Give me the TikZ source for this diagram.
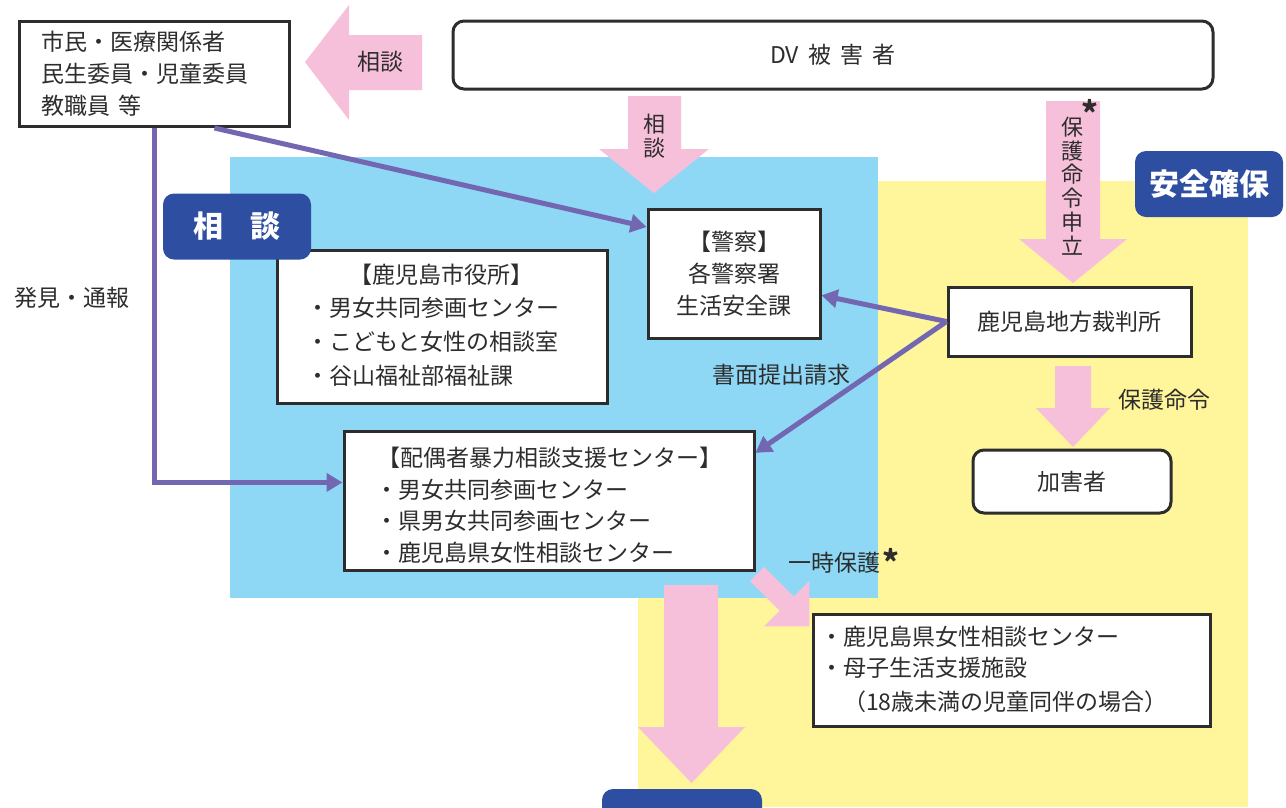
\documentclass[tikz,border=0pt]{standalone}
\usepackage{fontspec}
\setmainfont{Noto Sans CJK JP}
\usetikzlibrary{arrows.meta}
\definecolor{skyb}{RGB}{142,216,245}
\definecolor{lemon}{RGB}{255,245,155}
\definecolor{pinky}{RGB}{247,192,218}
\definecolor{navyb}{RGB}{46,79,161}
\definecolor{purp}{RGB}{115,103,178}
\definecolor{ink}{RGB}{45,45,45}
\newcommand{\astmark}{\raisebox{-13pt}[10pt][0pt]{*}}
\begin{document}
\begin{tikzpicture}[x=1pt,y=-1pt,
  box/.style={draw=ink,line width=3pt,fill=white,inner sep=0pt},
  rbox/.style={box,rounded corners=11pt},
  txt/.style={text=ink,font=\fontsize{23}{32}\selectfont,inner sep=0pt},
  badge/.style={fill=navyb,rounded corners=11pt,draw=none,text=white,font=\bfseries\fontsize{30}{30}\selectfont},
  flow/.style={draw=purp,line width=5pt,-{Triangle[length=16pt,width=18pt]}},
  pinkarrow/.style={fill=pinky,draw=none},
  astx/.style={text=ink,inner sep=0pt,anchor=south,font=\bfseries\fontsize{32}{32}\selectfont}]
\useasboundingbox (0,0) rectangle (1286,807);
\clip (0,0) rectangle (1286,807);
% background areas
\fill[lemon] (638,181) rectangle (1248,807);
\fill[skyb] (230,157) rectangle (878,598);
% pink arrows
\fill[pinkarrow] (305,62) -- (349,5) -- (349,35) -- (422,35) -- (422,90) -- (349,90) -- (349,120) -- cycle;
\fill[pinkarrow] (628,96) -- (681,96) -- (681,149) -- (709,149) -- (654,193) -- (599,149) -- (628,149) -- cycle;
\fill[pinkarrow] (1046,101) -- (1100,101) -- (1100,239) -- (1127,239) -- (1073,283) -- (1019,239) -- (1046,239) -- cycle;
\fill[pinkarrow] (1055,366) -- (1091,366) -- (1091,408) -- (1110,408) -- (1073,447) -- (1036,408) -- (1055,408) -- cycle;
\fill[pinkarrow] (664,585) -- (718,585) -- (718,727) -- (745,727) -- (691.5,783) -- (638,727) -- (664,727) -- cycle;
\begin{scope}[shift={(757,574)},rotate=-45]
\fill[pinkarrow] (0,-10) -- (42,-10) -- (42,-32) -- (74,0) -- (42,32) -- (42,10) -- (0,10) -- cycle;
\end{scope}
% boxes
\node[box,minimum width=270,minimum height=105,align=left,text width=226,txt,inner xsep=22pt] (box1) at (154.5,74)
  {市民・医療関係者\\民生委員・児童委員\\教職員 等};
\node[rbox,minimum width=760,minimum height=68,txt] (dv) at (833,55) {DV\hspace{0.4em}被\hspace{0.4em}害\hspace{0.4em}者};
\node[box,minimum width=330,minimum height=153] (city) at (442,326.5) {};
\node[box,minimum width=172,minimum height=129,txt,align=center] (police) at (734,273.5) {【警察】\\各警察署\\生活安全課};
\node[box,minimum width=243,minimum height=69,txt] (court) at (1069.5,321.5) {鹿児島地方裁判所};
\node[rbox,minimum width=198,minimum height=63,txt] (abuser) at (1072,481.5) {加害者};
\node[box,minimum width=410,minimum height=139] (sc) at (549,500.5) {};
\node[box,minimum width=397,minimum height=112] (shelter) at (1011.5,670) {};
% box texts
\node[txt] (cityt) at (441,275) {【鹿児島市役所】};
\node[txt,anchor=west] (city1) at (306,308) {・男女共同参画センター};
\node[txt,anchor=west] (city2) at (306,342) {・こどもと女性の相談室};
\node[txt,anchor=west] (city3) at (306,376) {・谷山福祉部福祉課};
\node[txt] (sct) at (550,458) {【配偶者暴力相談支援センター】};
\node[txt,anchor=west] (sc1) at (375,490) {・男女共同参画センター};
\node[txt,anchor=west] (sc2) at (375,521) {・県男女共同参画センター};
\node[txt,anchor=west] (sc3) at (375,553) {・鹿児島県女性相談センター};
\node[txt,anchor=west] (sh1) at (820,637) {・鹿児島県女性相談センター};
\node[txt,anchor=west] (sh2) at (820,668) {・母子生活支援施設};
\node[txt,anchor=west] (sh3) at (843,702) {（18歳未満の児童同伴の場合）};
% badges
\node[badge,minimum width=148,minimum height=66] (b1) at (237,226.5) {相\hspace{0.9em}談};
\node[badge,minimum width=148,minimum height=66] (b2) at (1209,184) {安全確保};
\node[badge,minimum width=160,minimum height=60] (b3) at (682,819) {};
% labels
\node[txt] (l1) at (380,62) {相談};
\node[txt,align=center,font=\fontsize{22}{24}\selectfont] (l2) at (654,136) {相\\談};
\node[txt,align=center,font=\fontsize{22}{23.7}\selectfont] (l3) at (1072,186) {保\\護\\命\\令\\申\\立};
\node[astx] (ast1) at (1090,113) {\astmark};
\node[txt] (l4) at (72,298) {発見・通報};
\node[txt] (l5) at (781,375) {書面提出請求};
\node[txt] (l6) at (1164,400) {保護命令};
\node[txt] (l7) at (834,563) {一時保護};
\node[astx] (ast2) at (891,562) {\astmark};
% purple connectors
\draw[flow] (box1.-42) -- (police.152);
\draw[flow] (box1.south) |- (sc.175);
\draw[flow] (court.west) -- (police.-14.5);
\draw[flow] (court.west) -- (sc.13.6);
\end{tikzpicture}
\end{document}
